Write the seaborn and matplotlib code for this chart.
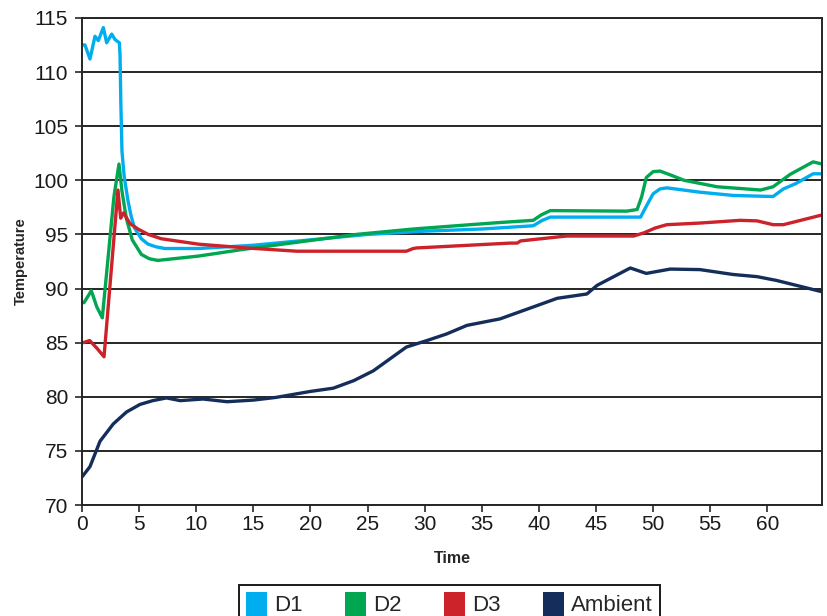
import matplotlib
matplotlib.use("Agg")
import matplotlib.pyplot as plt
import seaborn as sns
import pandas as pd
from matplotlib.patches import Patch

# ---- data ----
d1_x = [0, 0.26, 0.7, 1.14, 1.43, 1.87, 2.16, 2.6, 2.89, 3.27, 3.33, 3.4, 3.5, 3.7, 4.03, 4.3, 4.6, 5.2,
        5.78, 6.5, 7.24, 10.2, 15, 20, 25, 30, 35, 39.5, 40.3, 41, 48.9, 49.5, 50, 50.6, 51.2, 54.1, 57,
        60.5, 61.4, 62.5, 64, 64.8]
d1_y = [112.5, 112.5, 111.2, 113.3, 112.9, 114.1, 112.7, 113.5, 113.0, 112.7, 111.6, 107.3, 102.7, 100.3,
        98.1, 96.7, 95.6, 94.6, 94.1, 93.85, 93.7, 93.7, 94.0, 94.5, 95.0, 95.3, 95.5, 95.8, 96.3, 96.6,
        96.6, 97.8, 98.75, 99.2, 99.3, 98.9, 98.6, 98.5, 99.2, 99.7, 100.6, 100.6]

d2_x = [0, 0.18, 0.82, 1.3, 1.78, 2.3, 2.8, 3.24, 3.5, 3.88, 4.4, 5.2, 5.9, 6.65, 10.2, 14, 19, 24, 29, 34,
        36.6, 39.5, 40.2, 41, 47.7, 48.6, 49.0, 49.4, 50, 50.6, 51.5, 52.7, 55.6, 59.4, 60.5, 62, 64, 64.8]
d2_y = [88.7, 88.7, 89.8, 88.3, 87.3, 93.0, 98.5, 101.5, 99.0, 96.5, 94.5, 93.15, 92.75, 92.6, 93.0, 93.6,
        94.3, 95.0, 95.5, 95.9, 96.1, 96.3, 96.8, 97.2, 97.15, 97.3, 98.5, 100.25, 100.8, 100.85, 100.5,
        100.0, 99.4, 99.1, 99.4, 100.55, 101.7, 101.5]

d3_x = [0, 0.1, 0.67, 1.3, 1.93, 3.15, 3.39, 3.65, 4.2, 4.9, 5.8, 6.95, 10.2, 14.4, 18.8, 28.4, 29.0, 29.3,
        37.5, 38.1, 38.4, 42.4, 48.3, 49.2, 50.2, 51.2, 54.1, 57.6, 59.1, 60.5, 61.4, 64.8]
d3_y = [85.0, 85.0, 85.2, 84.5, 83.7, 99.1, 96.5, 97.0, 96.0, 95.5, 95.0, 94.6, 94.1, 93.75, 93.45, 93.45,
        93.7, 93.75, 94.2, 94.2, 94.4, 94.85, 94.85, 95.15, 95.6, 95.9, 96.05, 96.3, 96.25, 95.9, 95.9, 96.8]

amb_x = [0, 0.7, 1.58, 2.74, 3.9, 5.08, 6.2, 7.4, 8.6, 10.6, 12.7, 15, 17, 20, 22, 23.8, 25.5, 28.4, 30.2,
         31.9, 33.7, 36.6, 39.5, 41.6, 44.2, 45.1, 48, 49.4, 51.5, 54.1, 57, 59.1, 60.8, 62.9, 64.8]
amb_y = [72.6, 73.55, 75.9, 77.5, 78.6, 79.3, 79.65, 79.9, 79.65, 79.8, 79.55, 79.7, 79.95, 80.5, 80.8,
         81.5, 82.4, 84.6, 85.2, 85.8, 86.6, 87.2, 88.3, 89.1, 89.5, 90.3, 91.9, 91.4, 91.8, 91.75, 91.3,
         91.1, 90.75, 90.2, 89.7]

series_names = ["D1", "D2", "D3", "Ambient"]
colors = ["#00aeef", "#00a650", "#cc2229", "#142d5a"]
x_ticks = list(range(0, 65, 5))
y_ticks = list(range(70, 116, 5))

frames = []
for name, xs, ys in zip(series_names, [d1_x, d2_x, d3_x, amb_x], [d1_y, d2_y, d3_y, amb_y]):
    frames.append(pd.DataFrame({"Time": xs, "Temperature": ys, "Series": name}))
df = pd.concat(frames, ignore_index=True)

sns.set_theme(style="white")
plt.rcParams["font.family"] = ["Liberation Sans", "DejaVu Sans"]
plt.rcParams["lines.solid_joinstyle"] = "round"
plt.rcParams["lines.solid_capstyle"] = "round"

fig = plt.figure(figsize=(8.28, 6.16), dpi=100)
ax = fig.add_axes([0.099, 0.180, 0.993 - 0.099, 0.971 - 0.180])

for name, c in zip(series_names, colors):
    sub = df[df["Series"] == name]
    sns.lineplot(data=sub, x="Time", y="Temperature", color=c, lw=2.4, sort=False,
                 estimator=None, ax=ax, legend=False)

ax.set_xlim(0, 64.8)
ax.set_ylim(70, 115)
ax.set_xticks(x_ticks)
ax.set_yticks(y_ticks)
ax.yaxis.grid(True, color="#262626", lw=1.4)
ax.xaxis.grid(False)
ax.set_axisbelow(True)
for s in ax.spines.values():
    s.set_visible(True)
    s.set_color("#262626")
    s.set_linewidth(1.4)
ax.tick_params(axis="both", direction="out", length=5, width=1.2, color="#262626",
               labelsize=15, labelcolor="#1a1a1a", left=True, bottom=True)
ax.tick_params(axis="y", pad=5)
ax.tick_params(axis="x", pad=2)
ax.set_xlabel("Time", fontsize=11.5, fontweight="bold", labelpad=12)
ax.set_ylabel("Temperature", fontsize=10.5, fontweight="bold", labelpad=4)

handles = [Patch(facecolor=c, edgecolor="none") for c in colors]
leg = fig.legend(handles, series_names, loc="upper center", bbox_to_anchor=(0.543, 0.0503),
                 ncol=4, frameon=True, fancybox=False, shadow=False, fontsize=16,
                 handlelength=0.95, handleheight=1.3, handletextpad=0.32, columnspacing=1.9,
                 borderpad=0.3, borderaxespad=0, edgecolor="#1a1a1a", framealpha=1)
leg.get_frame().set_linewidth(1.4)

fig.savefig("out.png", dpi=100)
